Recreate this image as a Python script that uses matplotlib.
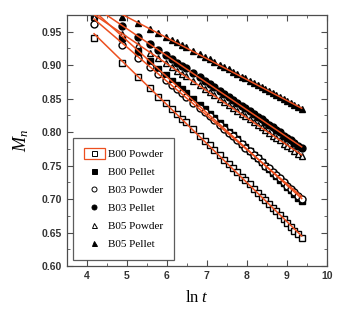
import numpy as np
import matplotlib
matplotlib.use("Agg")
import matplotlib.pyplot as plt
from matplotlib.patches import Patch
from matplotlib.lines import Line2D
from matplotlib.legend_handler import HandlerTuple

plt.rcParams["mathtext.fontset"] = "custom"
plt.rcParams["mathtext.it"] = "Liberation Serif:italic"
plt.rcParams["mathtext.rm"] = "Liberation Serif"

ln_t = [4.18, 4.87, 5.28, 5.57, 5.79, 5.97, 6.13, 6.26, 6.38, 6.48, 6.66, 6.82, 6.95,
        7.07, 7.18, 7.32, 7.44, 7.55, 7.65, 7.76, 7.87, 7.96, 8.07, 8.17, 8.27, 8.37,
        8.46, 8.55, 8.65, 8.73, 8.82, 8.92, 9.01, 9.10, 9.19, 9.28, 9.37]

b00_powder = [0.941, 0.904, 0.882, 0.866, 0.853, 0.843, 0.834, 0.827, 0.820, 0.815, 0.804,
              0.795, 0.787, 0.781, 0.774, 0.766, 0.759, 0.752, 0.747, 0.740, 0.733, 0.728,
              0.722, 0.715, 0.709, 0.703, 0.698, 0.692, 0.686, 0.682, 0.676, 0.670, 0.664,
              0.659, 0.653, 0.648, 0.642]
b00_pellet = [0.973, 0.940, 0.920, 0.906, 0.894, 0.885, 0.877, 0.870, 0.864, 0.859, 0.849,
              0.841, 0.834, 0.827, 0.821, 0.814, 0.807, 0.801, 0.796, 0.790, 0.783, 0.778,
              0.772, 0.766, 0.761, 0.755, 0.750, 0.745, 0.739, 0.735, 0.729, 0.724, 0.718,
              0.713, 0.708, 0.702, 0.697]
b03_powder = [0.961, 0.930, 0.911, 0.897, 0.887, 0.878, 0.871, 0.864, 0.858, 0.853, 0.844,
              0.836, 0.830, 0.824, 0.818, 0.811, 0.805, 0.799, 0.794, 0.788, 0.782, 0.777,
              0.772, 0.766, 0.761, 0.755, 0.750, 0.746, 0.740, 0.736, 0.731, 0.725, 0.720,
              0.715, 0.710, 0.705, 0.700]
b03_pellet = [0.984, 0.958, 0.942, 0.931, 0.923, 0.916, 0.909, 0.904, 0.899, 0.896, 0.888,
              0.882, 0.877, 0.872, 0.868, 0.862, 0.857, 0.853, 0.848, 0.844, 0.839, 0.836,
              0.831, 0.827, 0.823, 0.819, 0.815, 0.811, 0.807, 0.803, 0.800, 0.795, 0.791,
              0.788, 0.784, 0.780, 0.776]
b05_powder = [0.972, 0.946, 0.930, 0.919, 0.911, 0.904, 0.897, 0.892, 0.887, 0.884, 0.876,
              0.870, 0.865, 0.860, 0.856, 0.850, 0.845, 0.841, 0.836, 0.832, 0.827, 0.824,
              0.819, 0.815, 0.811, 0.807, 0.803, 0.799, 0.795, 0.791, 0.788, 0.783, 0.779,
              0.776, 0.772, 0.768, 0.764]
b05_pellet = [0.995, 0.972, 0.963, 0.954, 0.948, 0.942, 0.938, 0.934, 0.930, 0.927, 0.921,
              0.917, 0.912, 0.909, 0.905, 0.901, 0.897, 0.894, 0.890, 0.887, 0.883, 0.881,
              0.877, 0.874, 0.870, 0.867, 0.864, 0.861, 0.858, 0.855, 0.852, 0.849, 0.846,
              0.843, 0.840, 0.837, 0.834]

labels = ["B00 Powder", "B00 Pellet", "B03 Powder", "B03 Pellet", "B05 Powder", "B05 Pellet"]
series = [b00_powder, b00_pellet, b03_powder, b03_pellet, b05_powder, b05_pellet]
markers = ["s", "s", "o", "o", "^", "^"]
filled = [False, True, False, True, False, True]

fit_color = "#ec4f1f"
axis_color = "#4d4d4d"

fig = plt.figure(figsize=(3.43, 3.13), dpi=100)
ax = fig.add_axes([0.195, 0.150, 0.758, 0.802])

x = np.array(ln_t)
handles = []
for y, m, f, lab in zip(series, markers, filled, labels):
    y = np.array(y)
    fc = "black" if f else "white"
    ax.plot(x, y, linestyle="none", marker=m, markersize=5, markerfacecolor=fc,
            markeredgecolor="black", markeredgewidth=1.0, zorder=2)
    handles.append(Line2D([], [], linestyle="none", marker=m, markersize=3.6,
                          markerfacecolor=fc, markeredgecolor="black", markeredgewidth=0.7))
for y in series:
    y = np.array(y)
    k, b = np.polyfit(x, y, 1)
    ax.plot([x[0], x[-1]], [k * x[0] + b, k * x[-1] + b], color=fit_color, lw=1.1, zorder=3)

handles[0] = (Patch(facecolor="none", edgecolor=fit_color, linewidth=0.9), handles[0])

ax.set_xlim(3.5, 10)
ax.set_ylim(0.60, 0.975)
ax.set_xticks([4, 5, 6, 7, 8, 9, 10])
ax.set_xticks(np.arange(3.5, 10.01, 0.5), minor=True)
yt = [0.60, 0.65, 0.70, 0.75, 0.80, 0.85, 0.90, 0.95]
ax.set_yticks(yt)
ax.set_yticks(np.arange(0.60, 0.976, 0.025), minor=True)
ax.set_yticklabels([f"{v:.2f}" for v in yt])

ax.tick_params(which="both", direction="in", top=True, right=True, colors=axis_color,
               labelcolor="#333333")
ax.tick_params(which="major", length=4, width=0.8, labelsize=7.5)
ax.tick_params(which="minor", length=2, width=0.6)
for lab in ax.get_xticklabels() + ax.get_yticklabels():
    lab.set_fontfamily("Liberation Sans")
    lab.set_fontweight("bold")
for s in ax.spines.values():
    s.set_color(axis_color)
    s.set_linewidth(0.9)

ax.set_ylabel(r"$M_n$", fontsize=13, labelpad=8)
ax.set_xlabel(r"$\mathrm{ln}\ t$", fontsize=12, labelpad=5)

leg = ax.legend(handles, labels, loc="lower left", bbox_to_anchor=(0.025, 0.025),
                borderaxespad=0.0, frameon=True, fancybox=False, edgecolor="#333333",
                prop={"family": "Liberation Serif", "size": 8}, handlelength=1.9,
                handleheight=1.1, handletextpad=0.3, labelspacing=0.62, borderpad=0.95,
                handler_map={tuple: HandlerTuple(ndivide=1)})
leg.get_frame().set_linewidth(0.9)

fig.savefig("out.png", dpi=100)
